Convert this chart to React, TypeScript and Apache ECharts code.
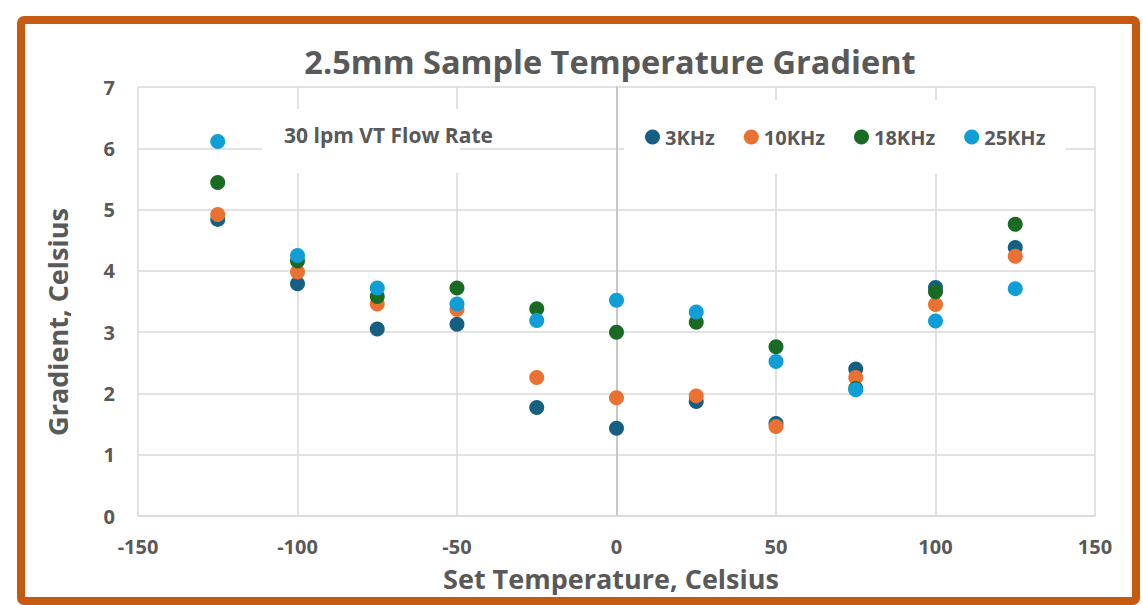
import React, { useEffect, useRef } from "react";
import * as echarts from "echarts";

const temps = [-125, -100, -75, -50, -25, 0, 25, 50, 75, 100, 125];
const k3 = [4.84, 3.79, 3.05, 3.13, 1.77, 1.43, 1.87, 1.51, 2.4, 3.73, 4.38];
const k10 = [4.92, 3.98, 3.46, 3.37, 2.26, 1.93, 1.96, 1.46, 2.26, 3.45, 4.24];
const k18 = [5.44, 4.16, 3.58, 3.72, 3.38, 3.0, 3.16, 2.76, 2.08, 3.66, 4.76];
const k25 = [6.11, 4.25, 3.72, 3.46, 3.19, 3.52, 3.33, 2.52, 2.06, 3.18, 3.71];

const seriesNames = ["3KHz", "10KHz", "18KHz", "25KHz"];
const seriesValues = [k3, k10, k18, k25];
const seriesColors = ["#156082", "#E97132", "#196B24", "#0F9ED5"];

const title = "2.5mm Sample Temperature Gradient";
const xName = "Set Temperature, Celsius";
const yName = "Gradient, Celsius";
const note = "30 lpm VT Flow Rate";

const FONT = "'Open Sans', sans-serif";
const TXT = "#595959";
const GRIDC = "#d9d9d9";

export default function App() {
  const ref = useRef<HTMLDivElement>(null);
  useEffect(() => {
    document.body.style.margin = "0";
    const chart = echarts.init(ref.current!, null, { renderer: "svg" });
    chart.setOption({
      animation: false,
      backgroundColor: "#ffffff",
      textStyle: { fontFamily: FONT },
      legend: {
        data: seriesNames,
        left: 624,
        top: 100,
        icon: "circle",
        itemWidth: 15,
        itemHeight: 15,
        itemGap: 29,
        backgroundColor: "#ffffff",
        padding: [27, 20, 27, 21],
        textStyle: { fontFamily: FONT, fontSize: 20, fontWeight: "bold", color: TXT },
        z: 4,
      },
      grid: { left: 138, right: 48, top: 87, bottom: 89 },
      xAxis: {
        type: "value",
        min: -150,
        max: 150,
        interval: 50,
        axisLine: { show: true, onZero: false, lineStyle: { color: GRIDC, width: 1.5 } },
        axisTick: { show: false },
        splitLine: { show: true, lineStyle: { color: GRIDC, width: 1.5 } },
        axisLabel: { margin: 20, fontFamily: FONT, fontSize: 20, fontWeight: "bold", color: TXT },
      },
      yAxis: [
        {
          type: "value",
          min: 0,
          max: 7,
          interval: 1,
          axisLine: { show: false, onZero: false },
          axisTick: { show: false },
          splitLine: { show: true, lineStyle: { color: GRIDC, width: 1.5 } },
          axisLabel: { margin: 23, fontFamily: FONT, fontSize: 20, fontWeight: "bold", color: TXT },
        },
        {
          type: "value",
          min: 0,
          max: 7,
          interval: 1,
          position: "left",
          axisLine: { show: true, onZero: true, onZeroAxisIndex: 0, lineStyle: { color: "#bfbfbf", width: 1.5 } },
          axisTick: { show: false },
          axisLabel: { show: false },
          splitLine: { show: false },
        },
      ],
      graphic: [
        {
          type: "rect",
          shape: { x: 21, y: 20, width: 1115, height: 581, r: 3 },
          style: { fill: "none", stroke: "#C55A11", lineWidth: 8 },
          z: 10,
        },
        {
          type: "text",
          x: 610,
          y: 61,
          style: {
            text: title,
            fontFamily: FONT,
            fontSize: 32.5,
            fontWeight: "bold",
            fill: TXT,
            align: "center",
            verticalAlign: "middle",
          },
        },
        {
          type: "rect",
          shape: { x: 262, y: 109, width: 198, height: 64 },
          style: { fill: "#ffffff" },
          z: 3,
        },
        {
          type: "text",
          x: 284,
          y: 135,
          style: {
            text: note,
            fontFamily: FONT,
            fontSize: 21,
            fontWeight: "bold",
            fill: TXT,
            align: "left",
            verticalAlign: "middle",
          },
          z: 4,
        },
        {
          type: "text",
          x: 57,
          y: 322,
          rotation: Math.PI / 2,
          style: {
            text: yName,
            fontFamily: FONT,
            fontSize: 27,
            fontWeight: "bold",
            fill: TXT,
            align: "center",
            verticalAlign: "middle",
          },
        },
        {
          type: "text",
          x: 611,
          y: 578,
          style: {
            text: xName,
            fontFamily: FONT,
            fontSize: 27,
            fontWeight: "bold",
            fill: TXT,
            align: "center",
            verticalAlign: "middle",
          },
        },
      ],
      series: seriesNames.map((name, i) => ({
        name,
        type: "scatter",
        symbol: "circle",
        symbolSize: 15,
        itemStyle: { color: seriesColors[i], opacity: 1 },
        data: temps.map((t, j) => [t, seriesValues[i][j]]),
        z: 5,
      })),
    });
    return () => chart.dispose();
  }, []);
  return <div ref={ref} style={{ width: 1143, height: 605 }} />;
}
